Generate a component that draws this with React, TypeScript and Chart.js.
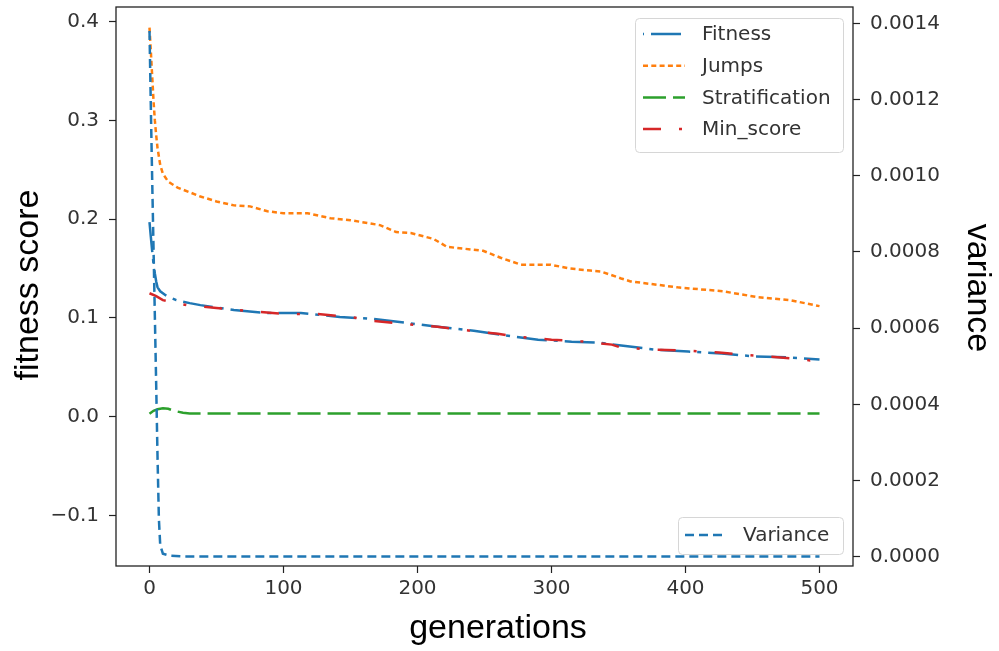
import React, { useEffect, useRef } from 'react';
import { Chart, registerables } from 'chart.js';

Chart.register(...registerables);

// ---- tick values ----
const xTicks = [0, 100, 200, 300, 400, 500];
const fitnessTicks = [-0.1, 0, 0.1, 0.2, 0.3, 0.4];
const varianceTicks = [0, 0.0002, 0.0004, 0.0006, 0.0008, 0.001, 0.0012, 0.0014];

// ---- series ----
const fitnessGen = [0, 1, 2, 3, 4, 5, 6, 8, 12, 20, 30, 38, 63, 88, 113, 142, 167, 192, 215, 242, 262, 290, 315, 336, 352, 377, 402, 427, 452, 477, 500];
const fitnessVal = [0.197, 0.182, 0.168, 0.155, 0.145, 0.137, 0.131, 0.127, 0.123, 0.118, 0.115, 0.113, 0.108, 0.105, 0.105, 0.101, 0.099, 0.095, 0.091, 0.087, 0.083, 0.078, 0.076, 0.075, 0.072, 0.068, 0.066, 0.064, 0.061, 0.06, 0.058];

const jumpsGen = [0, 1, 2, 3, 4, 5, 6, 8, 10, 14, 21, 38, 50, 63, 75, 88, 100, 118, 135, 150, 172, 184, 195, 212, 222, 249, 262, 277, 299, 314, 329, 337, 352, 359, 394, 428, 454, 478, 500];
const jumpsVal = [0.394, 0.37, 0.345, 0.32, 0.3, 0.285, 0.272, 0.255, 0.246, 0.238, 0.232, 0.223, 0.218, 0.214, 0.213, 0.208, 0.206, 0.206, 0.201, 0.199, 0.194, 0.187, 0.186, 0.18, 0.172, 0.168, 0.161, 0.154, 0.154, 0.15, 0.148, 0.147, 0.14, 0.137, 0.131, 0.127, 0.121, 0.118, 0.112];

const stratGen = [0, 3, 6, 10, 14, 18, 25, 30, 100, 200, 300, 400, 500];
const stratVal = [0.003, 0.006, 0.0075, 0.0085, 0.008, 0.006, 0.004, 0.0033, 0.0033, 0.0033, 0.0033, 0.0033, 0.0033];

const minGen = [0, 5, 10, 20, 28, 50, 75, 100, 125, 150, 167, 190, 215, 240, 260, 275, 300, 325, 345, 352, 375, 400, 425, 440, 460, 480, 493, 500];
const minVal = [0.125, 0.122, 0.118, 0.115, 0.113, 0.11, 0.107, 0.104, 0.104, 0.101, 0.097, 0.094, 0.091, 0.087, 0.084, 0.081, 0.078, 0.076, 0.073, 0.07, 0.068, 0.067, 0.065, 0.063, 0.061, 0.059, 0.057, 0.058];

const varGen = [0, 1, 2, 3, 4, 5, 6, 7, 8, 10, 15, 25, 100, 200, 300, 400, 500];
const varVal = [0.00138, 0.00118, 0.00099, 0.00081, 0.00063, 0.00045, 0.00026, 0.0001, 0.00003, 0.000008, 0.000003, 0.0000008, 0.0000008, 0.0000008, 0.0000008, 0.0000008, 0.0000008];

const BLUE = '#1f77b4';
const ORANGE = '#ff7f0e';
const GREEN = '#2ca02c';
const RED = '#d62728';

const TICK_FONT = { family: '"DejaVu Sans", sans-serif', size: 20, lineHeight: 1.2 };
const TICK_COLOR = '#333';

const pts = (g: number[], v: number[]) => g.map((x, i) => ({ x, y: v[i] }));

const legendMain = [
  { label: 'Fitness', color: BLUE, dash: [30, 7, 4, 7], offset: 40 },
  { label: 'Jumps', color: ORANGE, dash: [5, 3.3], offset: 0 },
  { label: 'Stratification', color: GREEN, dash: [23, 7], offset: 0 },
  { label: 'Min_score', color: RED, dash: [18, 18, 3, 18], offset: 0 },
];

const decorPlugin = {
  id: 'decor',
  afterDraw(chart: any) {
    const { ctx, chartArea } = chart;
    ctx.save();
    // frame
    ctx.strokeStyle = '#222';
    ctx.lineWidth = 1.3;
    ctx.setLineDash([]);
    ctx.strokeRect(chartArea.left, chartArea.top, chartArea.right - chartArea.left, chartArea.bottom - chartArea.top);

    const roundBox = (x: number, y: number, w: number, h: number, r: number) => {
      ctx.beginPath();
      ctx.moveTo(x + r, y);
      ctx.lineTo(x + w - r, y);
      ctx.quadraticCurveTo(x + w, y, x + w, y + r);
      ctx.lineTo(x + w, y + h - r);
      ctx.quadraticCurveTo(x + w, y + h, x + w - r, y + h);
      ctx.lineTo(x + r, y + h);
      ctx.quadraticCurveTo(x, y + h, x, y + h - r);
      ctx.lineTo(x, y + r);
      ctx.quadraticCurveTo(x, y, x + r, y);
      ctx.closePath();
      ctx.fillStyle = 'rgba(255,255,255,0.85)';
      ctx.fill();
      ctx.strokeStyle = '#d6d6d6';
      ctx.lineWidth = 1;
      ctx.stroke();
    };

    ctx.font = '20px "DejaVu Sans", sans-serif';
    ctx.textBaseline = 'middle';
    ctx.textAlign = 'left';

    // main legend
    roundBox(635.5, 18.5, 208, 134, 4);
    legendMain.forEach((it, i) => {
      const y = 34 + i * 31.7;
      ctx.strokeStyle = it.color;
      ctx.lineWidth = 2.5;
      ctx.setLineDash(it.dash);
      ctx.lineDashOffset = it.offset;
      ctx.beginPath();
      ctx.moveTo(643, y);
      ctx.lineTo(685, y);
      ctx.stroke();
      ctx.setLineDash([]);
      ctx.lineDashOffset = 0;
      ctx.fillStyle = '#333';
      ctx.fillText(it.label, 702, y + 1);
    });

    // variance legend
    roundBox(678.5, 517.5, 165, 37, 4);
    ctx.strokeStyle = BLUE;
    ctx.lineWidth = 2.5;
    ctx.setLineDash([9, 5]);
    ctx.beginPath();
    ctx.moveTo(685, 535);
    ctx.lineTo(725, 535);
    ctx.stroke();
    ctx.setLineDash([]);
    ctx.fillStyle = '#333';
    ctx.fillText('Variance', 743, 536);

    // axis titles
    ctx.fillStyle = '#000';
    ctx.font = '34px "Liberation Sans", Arial, sans-serif';
    ctx.textAlign = 'center';
    ctx.textBaseline = 'alphabetic';
    ctx.fillText('generations', 498, 638);

    ctx.save();
    ctx.translate(38, 285);
    ctx.rotate(-Math.PI / 2);
    ctx.fillText('fitness score', 0, 0);
    ctx.restore();

    ctx.save();
    ctx.translate(968, 288);
    ctx.rotate(Math.PI / 2);
    ctx.fillText('variance', 0, 0);
    ctx.restore();

    ctx.restore();
  },
};

export default function App() {
  const ref = useRef<HTMLCanvasElement | null>(null);

  useEffect(() => {
    document.body.style.margin = '0';
    const canvas = ref.current;
    if (!canvas) return;
    const lineBase = { pointRadius: 0, borderWidth: 2.5, tension: 0, fill: false, borderCapStyle: 'butt' as const };
    const grid = { drawOnChartArea: false, drawTicks: true, tickLength: 7, color: '#222', tickWidth: 1.2 } as any;
    const chart = new Chart(canvas, {
      type: 'line',
      data: {
        datasets: [
          { ...lineBase, label: 'Fitness', data: pts(fitnessGen, fitnessVal), borderColor: BLUE, borderDash: [30, 7, 4, 7], yAxisID: 'y', order: 5 },
          { ...lineBase, label: 'Jumps', data: pts(jumpsGen, jumpsVal), borderColor: ORANGE, borderDash: [5, 3.3], yAxisID: 'y', order: 4 },
          { ...lineBase, label: 'Stratification', data: pts(stratGen, stratVal), borderColor: GREEN, borderDash: [23, 7], yAxisID: 'y', order: 3 },
          { ...lineBase, label: 'Min_score', data: pts(minGen, minVal), borderColor: RED, borderDash: [18, 18, 3, 18], yAxisID: 'y', order: 2 },
          { ...lineBase, label: 'Variance', data: pts(varGen, varVal), borderColor: BLUE, borderDash: [9, 5], yAxisID: 'y1', order: 1 },
        ],
      },
      options: {
        animation: false,
        responsive: false,
        maintainAspectRatio: false,
        devicePixelRatio: 1,
        layout: { padding: { top: 7, left: 0, right: 0, bottom: 0 } },
        plugins: { legend: { display: false }, tooltip: { enabled: false } },
        scales: {
          x: {
            type: 'linear',
            min: -25,
            max: 525,
            afterBuildTicks: (s: any) => { s.ticks = xTicks.map((v) => ({ value: v })); },
            afterFit: (s: any) => { s.height = 85; s.paddingLeft = 0; s.paddingRight = 0; },
            ticks: { font: TICK_FONT, color: TICK_COLOR, padding: 4, maxRotation: 0, callback: (v: any) => String(v) },
            grid,
            border: { display: false },
          },
          y: {
            type: 'linear',
            position: 'left',
            min: -0.1512,
            max: 0.4149,
            afterBuildTicks: (s: any) => { s.ticks = fitnessTicks.map((v) => ({ value: v })); },
            afterFit: (s: any) => { s.width = 116; s.paddingTop = 0; s.paddingBottom = 0; },
            ticks: { font: TICK_FONT, color: TICK_COLOR, padding: 10, callback: (v: any) => Number(v).toFixed(1).replace('-', '\u2212') },
            grid,
            border: { display: false },
          },
          y1: {
            type: 'linear',
            position: 'right',
            min: -0.0000244,
            max: 0.0014428,
            afterBuildTicks: (s: any) => { s.ticks = varianceTicks.map((v) => ({ value: v })); },
            afterFit: (s: any) => { s.width = 146; s.paddingTop = 0; s.paddingBottom = 0; },
            ticks: { font: TICK_FONT, color: TICK_COLOR, padding: 10, callback: (v: any) => Number(v).toFixed(4) },
            grid,
            border: { display: false },
          },
        },
      },
      plugins: [decorPlugin],
    });
    return () => chart.destroy();
  }, []);

  return (
    <div style={{ width: 999, height: 651, background: '#fff' }}>
      <canvas ref={ref} width={999} height={651} style={{ display: 'block', width: 999, height: 651 }} />
    </div>
  );
}
